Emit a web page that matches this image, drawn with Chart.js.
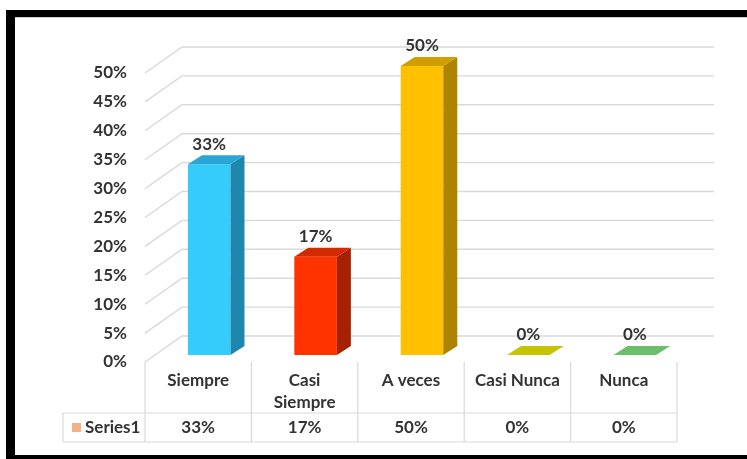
<!DOCTYPE html>
<html>
<head>
<meta charset="utf-8">
<script src="https://cdn.jsdelivr.net/npm/chart.js@4.4.1/dist/chart.umd.min.js"></script>
<style>
  html, body { margin: 0; padding: 0; background: #ffffff; overflow: hidden; }
  #wrap { position: relative; width: 747px; height: 459px; }
</style>
</head>
<body>
<div id="wrap"><canvas id="c" width="747" height="459"></canvas></div>
<script>
// Survey answers and their share of responses
const categories = [['Siempre'], ['Casi', 'Siempre'], ['A veces'], ['Casi Nunca'], ['Nunca']];
const seriesName = 'Series1';
const values = [33, 17, 50, 0, 0];
const yMin = 0, yMax = 50, yStep = 5;

// Face colours of each column: front, right side, top
const frontColors = ['#35cbfa', '#ff3300', '#ffc000', '#c8c800', '#70c070'];
const sideColors  = ['#1f87ad', '#a52100', '#ad8400', '#8f8f00', '#4d8f4c'];
const topColors   = ['#2aa6d6', '#d12a00', '#cf9e00', '#c4c400', '#6cbf69'];
const keyColor = '#f4b183';

const FAMILY = 'Lato, "Liberation Sans", sans-serif';
const FONT = 'bold 17px ' + FAMILY;
const TEXT = '#333333';
const GRID = '#d9d9d9';
const DX = 14, DY = 9;          // depth offset of the column tops / sides
const FRONT = 7, BACK = -19;    // wall lines relative to the value pixel
const TABLE_SHIFT = -11;        // data table columns sit in front of the bars

const pct = v => Math.round(v) + '%';

const framePlugin = {
  id: 'frame',
  afterDraw(chart) {
    const ctx = chart.ctx;
    ctx.save();
    ctx.fillStyle = '#000';
    ctx.fillRect(6, 10, 9, 449);
    ctx.fillRect(6, 10, 741, 7);
    ctx.fillRect(6, 455, 741, 4);
    ctx.fillStyle = '#cfcfcf';
    ctx.fillRect(15, 17, 732, 1);
    ctx.restore();
  }
};

const wallPlugin = {
  id: 'wall',
  beforeDatasetsDraw(chart) {
    const { ctx, chartArea, scales: { y } } = chart;
    const xf = chartArea.left - 11, xb = chartArea.left + 26, xr = chartArea.right + 26;
    ctx.save();
    ctx.strokeStyle = GRID;
    ctx.lineWidth = 1.4;
    for (let v = yMin; v <= yMax; v += yStep) {
      const p = y.getPixelForValue(v);
      ctx.beginPath();
      ctx.moveTo(xf, p + FRONT);
      ctx.lineTo(xb, p + BACK);
      ctx.lineTo(xr, p + BACK);
      ctx.stroke();
    }
    ctx.restore();
  }
};

const columnPlugin = {
  id: 'columns',
  afterDatasetsDraw(chart) {
    const ctx = chart.ctx;
    const meta = chart.getDatasetMeta(0);
    ctx.save();
    meta.data.forEach((bar, i) => {
      const { x, y, base, width } = bar.getProps(['x', 'y', 'base', 'width'], true);
      const l = x - width / 2, r = x + width / 2;
      // right side
      if (base - y > 0.5) {
        ctx.fillStyle = sideColors[i];
        ctx.beginPath();
        ctx.moveTo(r, y); ctx.lineTo(r + DX, y - DY);
        ctx.lineTo(r + DX, base - DY); ctx.lineTo(r, base);
        ctx.closePath(); ctx.fill();
      }
      // top
      ctx.fillStyle = topColors[i];
      ctx.beginPath();
      ctx.moveTo(l, y); ctx.lineTo(l + DX, y - DY);
      ctx.lineTo(r + DX, y - DY); ctx.lineTo(r, y);
      ctx.closePath(); ctx.fill();
      // value label
      ctx.fillStyle = TEXT;
      ctx.font = FONT;
      ctx.textAlign = 'center';
      ctx.textBaseline = 'middle';
      ctx.fillText(pct(values[i]), x, y - DY - 11);
    });
    ctx.restore();
  }
};

const tablePlugin = {
  id: 'table',
  afterDraw(chart) {
    const { ctx, scales: { x, y } } = chart;
    const colW = x.getPixelForValue(1) - x.getPixelForValue(0);
    const centers = categories.map((_, i) => x.getPixelForValue(i) + TABLE_SHIFT);
    const left = centers[0] - colW / 2;
    const right = centers[centers.length - 1] + colW / 2;
    const top = y.getPixelForValue(0) + FRONT;
    const mid = 413, bottom = 442, keyLeft = 63;
    ctx.save();
    ctx.strokeStyle = GRID;
    ctx.lineWidth = 1.2;
    ctx.beginPath();
    for (let i = 0; i <= categories.length; i++) {
      const bx = left + i * colW;
      ctx.moveTo(bx, top); ctx.lineTo(bx, bottom);
    }
    ctx.moveTo(keyLeft, mid); ctx.lineTo(right, mid);
    ctx.moveTo(keyLeft, bottom); ctx.lineTo(right, bottom);
    ctx.moveTo(keyLeft, mid); ctx.lineTo(keyLeft, bottom);
    ctx.stroke();

    ctx.fillStyle = TEXT;
    ctx.font = FONT;
    ctx.textAlign = 'center';
    ctx.textBaseline = 'middle';
    categories.forEach((lines, i) => {
      lines.forEach((t, k) => ctx.fillText(t, centers[i], 381 + k * 22));
      ctx.fillText(pct(values[i]), centers[i], 428);
    });
    ctx.fillStyle = keyColor;
    ctx.fillRect(72, 423, 9, 9);
    ctx.fillStyle = TEXT;
    ctx.textAlign = 'left';
    ctx.fillText(seriesName, 85, 428);
    ctx.restore();
  }
};

new Chart(document.getElementById('c'), {
  type: 'bar',
  data: {
    labels: categories,
    datasets: [{
      label: seriesName,
      data: values,
      backgroundColor: frontColors,
      borderWidth: 0,
      categoryPercentage: 1,
      barPercentage: 0.4
    }]
  },
  options: {
    responsive: false,
    animation: false,
    devicePixelRatio: 1,
    layout: { padding: { left: 56, right: 59, top: 66, bottom: 104 } },
    plugins: { legend: { display: false }, tooltip: { enabled: false } },
    scales: {
      x: { display: false },
      y: {
        min: yMin, max: yMax,
        afterFit(scale) { scale.width = 100; },
        grid: { display: false, drawTicks: false },
        border: { display: false },
        ticks: {
          stepSize: yStep,
          padding: 29,
          labelOffset: FRONT,
          color: TEXT,
          font: { family: FAMILY, size: 17, weight: 'bold' },
          callback: v => v + '%'
        }
      }
    }
  },
  plugins: [wallPlugin, columnPlugin, tablePlugin, framePlugin]
});
</script>
</body>
</html>
